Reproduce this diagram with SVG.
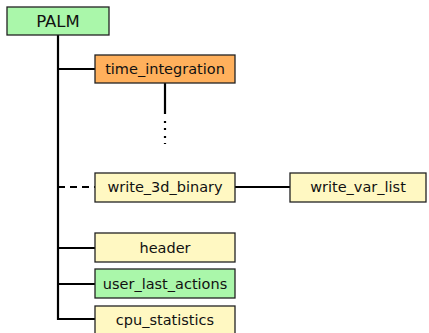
<svg xmlns="http://www.w3.org/2000/svg" width="429" height="333" viewBox="0 0 429 333">
<style>
.box{stroke:#222;stroke-width:1.3}
.g{fill:#aaf7aa}
.o{fill:#ffb05c}
.y{fill:#fff8c2}
.t{font-family:"DejaVu Sans","Noto Sans",sans-serif;font-size:14.5px;fill:#111;text-anchor:middle}
.l{stroke:#000;stroke-width:2.2;fill:none}
</style>
<rect width="429" height="333" fill="#fff"/>
<g id="connectors">
<path class="l" d="M58 35V319H95M58 69H95M58 248H95M58 284H95M235 187H290M165 83V114"/>
<path class="l" d="M58 187H95" stroke-dasharray="7,5"/>
<path d="M165 121V123M165 128V130M165 136V138M165 143V144" stroke="#000" stroke-width="2.2"/>
</g>
<g id="palm"><rect class="box g" x="7" y="7" width="102" height="28"/><text class="t" x="58" y="27" style="font-size:16.5px">PALM</text></g>
<g id="time_integration"><rect class="box o" x="95" y="55" width="140" height="28"/><text class="t" x="165" y="74">time_integration</text></g>
<g id="write_3d_binary"><rect class="box y" x="95" y="173" width="140" height="29"/><text class="t" x="165" y="192">write_3d_binary</text></g>
<g id="write_var_list"><rect class="box y" x="290" y="173" width="136" height="29"/><text class="t" x="358" y="192">write_var_list</text></g>
<g id="header"><rect class="box y" x="95" y="233" width="140" height="29"/><text class="t" x="165" y="253">header</text></g>
<g id="user_last_actions"><rect class="box g" x="95" y="269" width="140" height="29"/><text class="t" x="165" y="289">user_last_actions</text></g>
<g id="cpu_statistics"><rect class="box y" x="95" y="306" width="140" height="30"/><text class="t" x="165" y="325">cpu_statistics</text></g>
</svg>
